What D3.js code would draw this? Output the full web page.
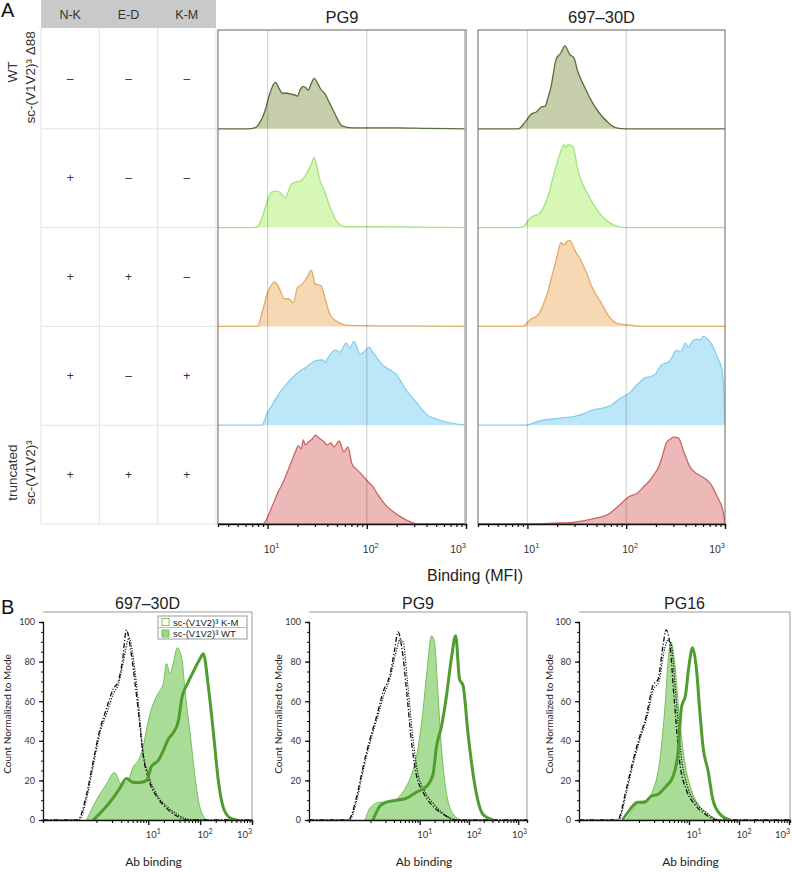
<!DOCTYPE html>
<html>
<head>
<meta charset="utf-8">
<script src="https://cdn.jsdelivr.net/npm/d3@7"></script>
<style>
  body { margin: 0; background: #fff; }
  svg { display: block; font-family: "Liberation Sans", Arial, sans-serif; }
</style>
</head>
<body>
<svg id="fig" width="792" height="872"></svg>
<script>
/* ========================================
   Binding histograms - panel A (ridges) and panel B (overlays)
   x values are log10(MFI), y values are % of row / % of mode
   ======================================== */

// ---- Panel A categories
const mutations = ['N-K', 'E-D', 'K-M'];
const rowMarks = [
    ['–', '–', '–'],
    ['+', '–', '–'],
    ['+', '+', '–'],
    ['+', '–', '+'],
    ['+', '+', '+']
];
const rowLabels = [['WT', 'sc-(V1V2)³ Δ88'], [], [], [], ['truncated', 'sc-(V1V2)³']];
const antibodiesA = ['PG9', '697–30D'];
const majorTicks = [10, 100, 1000];

// ---- Panel A series: PG9
const pg9Wt = [[0.80,0],[0.87,1],[0.92,6],[0.97,17],[1.02,35],[1.06,45],[1.08,47],[1.11,42],[1.15,36],[1.20,36],[1.24,35],[1.28,34],[1.30,33],[1.33,40],[1.36,43],[1.39,41],[1.41,39],[1.44,46],[1.47,51],[1.50,47],[1.53,41],[1.58,35],[1.63,25],[1.68,15],[1.72,7],[1.75,3],[1.85,1],[2.3,1],[2.6,0.5]];
const pg9Nk = [[0.85,0],[0.90,1],[0.95,12],[1.00,28],[1.04,36],[1.08,37],[1.12,36],[1.15,33],[1.18,30],[1.21,37],[1.24,44],[1.28,46],[1.33,47],[1.37,51],[1.40,56],[1.44,64],[1.47,71],[1.50,60],[1.53,47],[1.57,38],[1.60,29],[1.64,18],[1.68,9],[1.72,4],[1.77,1],[2.0,1],[2.5,0.5]];
const pg9NkEd = [[0.85,0],[0.895,0],[0.95,16],[1.00,34],[1.04,42],[1.07,45],[1.10,42],[1.12,38],[1.17,28],[1.21,28],[1.26,24],[1.30,39],[1.35,43],[1.40,50],[1.44,57],[1.48,43],[1.54,41],[1.58,28],[1.63,12],[1.70,5],[1.82,1],[2.2,0.5]];
const pg9NkKm = [[0.94,0],[1.00,13],[1.05,21],[1.09,28],[1.13,34],[1.17,39],[1.23,46],[1.28,51],[1.33,55],[1.38,58],[1.43,62],[1.48,65],[1.55,66],[1.58,64],[1.62,70],[1.68,76],[1.73,74],[1.79,83],[1.83,78],[1.87,85],[1.90,79],[1.93,72],[1.97,74],[2.02,79],[2.06,74],[2.09,70],[2.16,61],[2.23,56],[2.30,51],[2.35,43],[2.40,35],[2.45,29],[2.50,23],[2.60,11],[2.74,5],[2.91,1],[3.0,0]];
const pg9Trunc = [[0.95,0],[1.05,19],[1.10,31],[1.16,43],[1.20,53],[1.24,63],[1.28,73],[1.31,79],[1.34,76],[1.36,85],[1.38,80],[1.41,83],[1.45,86],[1.48,90],[1.52,87],[1.56,84],[1.60,80],[1.64,82],[1.67,78],[1.72,84],[1.77,73],[1.81,78],[1.85,61],[1.90,55],[1.96,49],[2.01,43],[2.06,38],[2.11,30],[2.16,23],[2.21,17],[2.26,13],[2.33,8],[2.40,4],[2.53,0]];

// ---- Panel A series: 697-30D
const mabWt = [[0.85,0],[0.91,0],[0.97,6],[1.04,15],[1.09,17],[1.14,22],[1.18,23],[1.21,32],[1.24,43],[1.29,70],[1.34,77],[1.38,84],[1.43,75],[1.47,72],[1.51,58],[1.58,42],[1.65,28],[1.72,17],[1.82,6],[1.90,1],[2.0,0]];
const mabNk = [[0.90,0],[0.96,1],[1.02,9],[1.07,12],[1.12,14],[1.17,22],[1.21,32],[1.25,47],[1.29,62],[1.33,75],[1.37,84],[1.39,81],[1.41,84],[1.46,82],[1.51,59],[1.55,46],[1.60,36],[1.66,25],[1.72,16],[1.78,9],[1.85,4],[1.98,0]];
const mabNkEd = [[0.90,0],[0.95,0],[1.03,7],[1.11,12],[1.16,22],[1.20,33],[1.24,48],[1.28,63],[1.31,75],[1.34,85],[1.36,83],[1.38,83],[1.40,86],[1.43,87],[1.48,77],[1.55,65],[1.60,54],[1.64,43],[1.69,33],[1.74,25],[1.82,11],[1.91,3],[2.06,1],[2.2,0]];
const mabNkKm = [[0.98,0],[1.11,4],[1.32,7],[1.48,9],[1.58,12],[1.65,15],[1.75,17],[1.82,19],[1.86,21],[1.92,26],[2.01,31],[2.05,34],[2.09,39],[2.13,43],[2.19,48],[2.24,49],[2.29,51],[2.33,57],[2.36,61],[2.43,64],[2.47,70],[2.51,76],[2.55,74],[2.60,83],[2.63,79],[2.68,86],[2.72,87],[2.75,86],[2.78,90],[2.85,84],[2.89,77],[2.92,69],[2.97,56],[2.99,30],[3.0,3]];
const mabTrunc = [[1.08,0],[1.32,1],[1.48,2],[1.65,5],[1.82,10],[1.92,18],[2.02,27],[2.12,32],[2.17,37],[2.23,43],[2.28,50],[2.33,58],[2.37,70],[2.41,83],[2.45,86],[2.48,88],[2.53,87],[2.58,74],[2.65,57],[2.73,50],[2.81,45],[2.86,40],[2.90,32],[2.94,24],[2.97,17],[3.0,2]];

const seriesA = [
    [pg9Wt, pg9Nk, pg9NkEd, pg9NkKm, pg9Trunc],
    [mabWt, mabNk, mabNkEd, mabNkKm, mabTrunc]
];

// ---- Panel B series
const antibodiesB = ['697–30D', 'PG9', 'PG16'];
const legendLabels = ['sc-(V1V2)³ K-M', 'sc-(V1V2)³ WT'];

const b697Dash = [[-0.36,0],[-0.19,13],[-0.06,30],[0.06,45],[0.19,56],[0.32,66],[0.42,70],[0.50,80],[0.58,96],[0.66,86],[0.75,68],[0.82,52],[0.90,33],[1.0,21],[1.16,12],[1.35,6],[1.55,2],[1.74,0]];
const b697Dot = [[-0.34,0],[-0.18,12],[-0.05,29],[0.07,44],[0.20,54],[0.33,64],[0.43,69],[0.52,80],[0.63,92],[0.71,82],[0.81,59],[0.90,34],[1.0,23],[1.16,13],[1.35,7],[1.55,3],[1.74,0.5],[2.0,0]];
const b697Wt = [[-0.19,0],[0.0,10],[0.19,18],[0.35,24],[0.48,18],[0.61,20],[0.71,27],[0.81,30],[0.90,37],[1.0,50],[1.10,59],[1.19,64],[1.29,69],[1.35,79],[1.42,74],[1.48,79],[1.56,87],[1.65,81],[1.71,65],[1.81,43],[1.90,22],[2.0,6],[2.13,0]];
const b697Km = [[-0.06,0],[0.13,5],[0.32,11],[0.45,16],[0.58,21],[0.71,19],[0.84,19],[0.97,20],[1.06,27],[1.19,30],[1.29,35],[1.39,41],[1.48,44],[1.58,50],[1.65,62],[1.74,68],[1.87,75],[1.99,81],[2.06,84],[2.16,67],[2.26,43],[2.35,20],[2.45,6],[2.58,1],[2.71,0]];

const bPg9Dash = [[-0.45,0],[-0.28,12],[-0.15,27],[-0.01,41],[0.12,52],[0.26,65],[0.39,73],[0.49,86],[0.56,95],[0.63,88],[0.73,66],[0.83,40],[0.93,23],[1.07,14],[1.27,7],[1.47,3],[1.74,0]];
const bPg9Dot = [[-0.43,0],[-0.27,11],[-0.14,26],[0.0,40],[0.13,51],[0.27,63],[0.40,72],[0.51,84],[0.60,91],[0.66,90],[0.75,70],[0.85,44],[0.95,25],[1.09,15],[1.29,8],[1.49,3],[1.80,0]];
const bPg9Wt = [[-0.11,0],[-0.01,6],[0.19,9],[0.39,9],[0.59,12],[0.73,17],[0.86,25],[0.97,37],[1.07,56],[1.15,76],[1.24,93],[1.30,90],[1.37,64],[1.44,37],[1.54,14],[1.68,3],[1.84,0]];
const bPg9Km = [[0.05,0],[0.19,7],[0.32,9],[0.53,10],[0.73,11],[0.93,14],[1.14,17],[1.27,23],[1.34,37],[1.44,47],[1.54,62],[1.64,81],[1.73,93],[1.81,71],[1.88,68],[1.98,44],[2.08,24],[2.18,10],[2.28,3],[2.49,0]];

const bPg16Dash = [[-0.43,0],[-0.26,15],[-0.13,29],[0.0,41],[0.14,52],[0.28,68],[0.38,71],[0.48,88],[0.54,96],[0.61,90],[0.71,59],[0.81,30],[0.95,15],[1.11,8],[1.32,3],[1.55,0]];
const bPg16Dot = [[-0.41,0],[-0.25,14],[-0.12,28],[0.01,40],[0.15,51],[0.29,66],[0.40,70],[0.50,85],[0.58,91],[0.64,89],[0.74,62],[0.84,33],[0.97,17],[1.13,9],[1.34,4],[1.60,0]];
const bPg16Wt = [[-0.26,0],[-0.13,5],[0.0,9],[0.14,10],[0.28,15],[0.41,29],[0.51,54],[0.60,85],[0.64,90],[0.71,80],[0.81,51],[0.91,30],[1.05,15],[1.21,7],[1.42,2],[1.62,0]];
const bPg16Km = [[-0.33,0],[-0.19,5],[-0.03,9],[0.11,9],[0.24,12],[0.38,13],[0.54,17],[0.68,22],[0.78,34],[0.85,57],[0.93,63],[1.0,78],[1.07,87],[1.15,76],[1.21,57],[1.28,37],[1.38,25],[1.48,10],[1.62,3],[1.82,0]];

const seriesB = [
    { dash: b697Dash, dot: b697Dot, wt: b697Wt, km: b697Km },
    { dash: bPg9Dash, dot: bPg9Dot, wt: bPg9Wt, km: bPg9Km },
    { dash: bPg16Dash, dot: bPg16Dot, wt: bPg16Wt, km: bPg16Km }
];

// ---- Styles
const rowFill = ['#c5cdaa', '#d6f7b6', '#f6d8b4', '#bde7f8', '#ecb8b8'];
const rowStroke = ['#566e3c', '#a5e37c', '#e2aa6a', '#86cfee', '#cc6565'];
const FONT_B = 'Lato, "Open Sans", sans-serif';
const WT_FILL = '#9ad685', WT_STROKE = '#74c057', KM_STROKE = '#4f9c2f';

const svg = d3.select('#fig');

function pad(s, lo, hi) {
    const out = s.slice();
    if (out[0][0] > lo) out.unshift([lo, 0]);
    if (out[out.length - 1][0] < hi) out.push([hi, 0]);
    return out;
}

function powLabel(sel, e, sup, dy) {
    sel.append('tspan').text('10');
    sel.append('tspan').attr('dy', dy).attr('font-size', sup).text(e);
}

function minorTicks(lo, hi) {
    const t = [];
    [1, 10, 100].forEach(d => { for (let k = 1; k <= 9; k++) t.push(k * d); });
    return t.filter(v => v >= lo && v <= hi && ![10, 100, 1000].includes(v));
}

// ================= PANEL A =================
const aTop = 30, aBottom = 524;
const plotsA = [{ x0: 218, x1: 466 }, { x0: 478, x1: 725 }];
const aDomain = [Math.pow(10, 0.5), 1000];
const rowY = d3.scaleLinear().domain([0, rowMarks.length]).range([aTop, aBottom]);
const colX = d3.scaleBand().domain(mutations).range([41, 216]);

svg.append('text').attr('x', 1).attr('y', 17)
    .attr('font-size', 20).attr('fill', '#111').text('A');

// Table header
svg.append('rect').attr('x', 41).attr('y', 0).attr('width', 175).attr('height', 28).attr('fill', '#c9c9c9');
svg.selectAll('.hdr').data(mutations).join('text')
    .attr('x', d => colX(d) + colX.bandwidth() / 2).attr('y', 19)
    .attr('text-anchor', 'middle').attr('font-size', 12.5).attr('fill', '#333').text(d => d);

// Table grid
const grid = svg.append('g').attr('stroke', '#e2e2e2').attr('stroke-width', 1);
mutations.concat(['end']).forEach((m, i) => {
    const x = i < 3 ? colX(m) : 216;
    grid.append('line').attr('x1', x).attr('x2', x).attr('y1', 28).attr('y2', aBottom);
});
d3.range(1, rowMarks.length + 1).forEach(i => {
    grid.append('line').attr('x1', 41).attr('x2', 218).attr('y1', rowY(i)).attr('y2', rowY(i));
});

// Table marks
rowMarks.forEach((row, r) => {
    const cy = (rowY(r) + rowY(r + 1)) / 2;
    row.forEach((m, c) => {
        svg.append('text')
            .attr('x', colX(mutations[c]) + colX.bandwidth() / 2).attr('y', cy + 4)
            .attr('text-anchor', 'middle').attr('font-size', 12).attr('fill', '#333').text(m);
    });
    // Row labels (rotated)
    rowLabels[r].forEach((line, k) => {
        const bx = k === 0 ? 17 : 35;
        const cyl = r === 0 && k === 0 ? 72 : cy - 2;
        svg.append('text')
            .attr('transform', `translate(${bx},${cyl}) rotate(-90)`)
            .attr('text-anchor', 'middle').attr('font-size', 13.5).attr('fill', '#333').text(line);
    });
});

// Ridge plots
plotsA.forEach((p, pi) => {
    const x = d3.scaleLog().domain(aDomain).range([p.x0, p.x1]);
    const g = svg.append('g');
    const clipId = 'clipA' + pi;
    svg.append('clipPath').attr('id', clipId).append('rect')
        .attr('x', p.x0).attr('y', aTop).attr('width', p.x1 - p.x0).attr('height', aBottom - aTop);

    svg.append('text').attr('x', (p.x0 + p.x1) / 2).attr('y', 23)
        .attr('text-anchor', 'middle').attr('font-size', 16.5).attr('fill', '#222').text(antibodiesA[pi]);

    const body = g.append('g').attr('clip-path', `url(#${clipId})`);
    seriesA[pi].forEach((s, r) => {
        const base = rowY(r + 1);
        const y = d3.scaleLinear().domain([0, 100]).range([base, rowY(r)]);
        const data = pad(s, 0.5, 3);
        const area = d3.area().curve(d3.curveMonotoneX)
            .x(d => x(Math.pow(10, d[0]))).y0(base).y1(d => y(d[1]));
        const line = d3.line().curve(d3.curveMonotoneX)
            .x(d => x(Math.pow(10, d[0]))).y(d => y(d[1]));
        body.append('path').attr('d', area(data)).attr('fill', rowFill[r]);
        body.append('path').attr('d', line(data)).attr('fill', 'none')
            .attr('stroke', rowStroke[r]).attr('stroke-width', 1.3);
    });

    // Vertical gridlines at decades
    [10, 100].forEach(v => {
        body.append('line').attr('x1', x(v)).attr('x2', x(v)).attr('y1', aTop).attr('y2', aBottom)
            .attr('stroke', '#000').attr('stroke-opacity', 0.17).attr('stroke-width', 1.2);
    });

    // Frame
    g.append('rect').attr('x', p.x0).attr('y', aTop).attr('width', p.x1 - p.x0).attr('height', aBottom - aTop)
        .attr('fill', 'none').attr('stroke', '#666').attr('stroke-width', 1);
    if (pi === 0) {
        g.append('line').attr('x1', p.x1 - 0.5).attr('x2', p.x1 - 0.5).attr('y1', aTop + 1).attr('y2', aBottom)
            .attr('stroke', '#b5b5b5').attr('stroke-width', 2.5);
    }

    // Axis
    const axMinor = g.append('g').attr('transform', `translate(0,${aBottom})`)
        .call(d3.axisBottom(x).tickValues(minorTicks(aDomain[0], aDomain[1])).tickSize(3).tickFormat(''));
    axMinor.select('.domain').attr('stroke', '#111').attr('stroke-width', 1.3);
    axMinor.selectAll('.tick line').attr('stroke', '#111').attr('stroke-width', 1.2);
    const axMajor = g.append('g').attr('transform', `translate(0,${aBottom})`)
        .call(d3.axisBottom(x).tickValues(majorTicks).tickSize(5).tickFormat(''));
    axMajor.select('.domain').remove();
    axMajor.selectAll('.tick line').attr('stroke', '#111').attr('stroke-width', 1.4);

    majorTicks.forEach((v, i) => {
        const last = i === majorTicks.length - 1;
        const t = g.append('text').attr('x', last ? p.x1 : x(v) + 4).attr('y', 553)
            .attr('text-anchor', last ? 'end' : 'middle').attr('font-size', 10.5).attr('fill', '#333');
        powLabel(t, Math.log10(v), 7.5, -5);
    });
});

svg.append('text').attr('x', 475).attr('y', 581).attr('text-anchor', 'middle')
    .attr('font-size', 16).attr('fill', '#222').text('Binding (MFI)');

// ================= PANEL B =================
svg.append('text').attr('x', 1).attr('y', 614)
    .attr('font-size', 20).attr('fill', '#111').text('B');

const bTop = 612, bZero = 820, bHundred = 622;
const plotsB = [
    { x0: 43, x1: 252, dom: [-1.03, 3.0], ylab: 11 },
    { x0: 309, x1: 527, dom: [-1.25, 3.18], ylab: 282 },
    { x0: 579, x1: 790, dom: [-1.2, 3.02], ylab: 553 }
];

plotsB.forEach((p, pi) => {
    const x = d3.scaleLog().domain([Math.pow(10, p.dom[0]), Math.pow(10, p.dom[1])]).range([p.x0, p.x1]);
    const y = d3.scaleLinear().domain([0, 100]).range([bZero, bHundred]);
    const g = svg.append('g');
    const s = seriesB[pi];
    const px = d => x(Math.pow(10, d[0]));

    svg.append('text').attr('x', (p.x0 + p.x1) / 2).attr('y', 609)
        .attr('text-anchor', 'middle').attr('font-size', 16).attr('fill', '#222').text(antibodiesB[pi]);

    // Frame top/right
    g.append('path').attr('d', `M${p.x0},${bTop}H${p.x1}V${bZero}`)
        .attr('fill', 'none').attr('stroke', '#999').attr('stroke-width', 1);

    const lineGen = d3.line().curve(d3.curveMonotoneX).x(px).y(d => y(d[1]));
    const areaGen = d3.area().curve(d3.curveMonotoneX).x(px).y0(bZero).y1(d => y(d[1]));

    // WT filled
    g.append('path').attr('d', areaGen(s.wt)).attr('fill', WT_FILL).attr('fill-opacity', 0.85)
        .attr('stroke', WT_STROKE).attr('stroke-width', 1);

    // Controls
    g.append('path').attr('d', lineGen(pad(s.dash, p.dom[0], p.dom[1]))).attr('fill', 'none')
        .attr('stroke', '#111').attr('stroke-width', 1.3).attr('stroke-dasharray', '5,2,1.2,2');
    g.append('path').attr('d', lineGen(pad(s.dot, p.dom[0], p.dom[1]))).attr('fill', 'none')
        .attr('stroke', '#111').attr('stroke-width', 1.2).attr('stroke-dasharray', '1.2,1.4');

    // K-M thick line
    g.append('path').attr('d', lineGen(s.km)).attr('fill', 'none')
        .attr('stroke', KM_STROKE).attr('stroke-width', 3).attr('stroke-linejoin', 'round');

    // X axis
    const axMinor = g.append('g').attr('transform', `translate(0,${bZero})`)
        .call(d3.axisBottom(x).tickValues(minorTicks(1, 1000)).tickSize(3).tickFormat(''));
    axMinor.select('.domain').attr('stroke', '#111').attr('stroke-width', 1.3);
    axMinor.selectAll('.tick line').attr('stroke', '#111').attr('stroke-width', 1.1);
    const axMajor = g.append('g').attr('transform', `translate(0,${bZero})`)
        .call(d3.axisBottom(x).tickValues(majorTicks).tickSize(5).tickFormat(''));
    axMajor.select('.domain').remove();
    axMajor.selectAll('.tick line').attr('stroke', '#111').attr('stroke-width', 1.4);
    majorTicks.forEach((v, i) => {
        const last = i === majorTicks.length - 1;
        const t = g.append('text').attr('x', last ? p.x1 : x(v) + 5).attr('y', 838)
            .attr('text-anchor', last ? 'end' : 'middle').attr('font-family', FONT_B)
            .attr('font-size', 9.5).attr('fill', '#333');
        powLabel(t, Math.log10(v), 7, -4);
    });

    // Y axis
    const ayMinor = g.append('g').attr('transform', `translate(${p.x0},0)`)
        .call(d3.axisLeft(y).tickValues(d3.range(0, 101, 5)).tickSize(2).tickFormat(''));
    ayMinor.select('.domain').attr('stroke', '#111').attr('stroke-width', 1.3);
    ayMinor.selectAll('.tick line').attr('stroke', '#111');
    const ayMajor = g.append('g').attr('transform', `translate(${p.x0},0)`)
        .call(d3.axisLeft(y).tickValues(d3.range(0, 101, 20)).tickSize(4).tickPadding(4));
    ayMajor.select('.domain').remove();
    ayMajor.selectAll('.tick line').attr('stroke', '#111').attr('stroke-width', 1.2);
    ayMajor.selectAll('.tick text').attr('font-family', FONT_B).attr('font-size', 9).attr('fill', '#333');

    g.append('text').attr('transform', `translate(${p.ylab},714) rotate(-90)`)
        .attr('text-anchor', 'middle').attr('font-family', FONT_B).attr('font-size', 10)
        .attr('fill', '#222').text('Count Normalized to Mode');
    g.append('text').attr('x', (p.x0 + p.x1) / 2 + 6).attr('y', 866)
        .attr('text-anchor', 'middle').attr('font-family', FONT_B).attr('font-size', 12)
        .attr('fill', '#222').text('Ab binding');
});

// Legend (first B panel)
const leg = svg.append('g').attr('transform', 'translate(158,616)');
leg.append('rect').attr('width', 89).attr('height', 23).attr('fill', '#fff').attr('stroke', '#999');
leg.append('line').attr('x1', 0).attr('x2', 89).attr('y1', 11.5).attr('y2', 11.5).attr('stroke', '#bbb');
legendLabels.forEach((lab, i) => {
    leg.append('rect').attr('x', 4).attr('y', 2.5 + i * 11.5).attr('width', 7).attr('height', 7)
        .attr('fill', i === 0 ? '#fff' : WT_FILL).attr('stroke', i === 0 ? '#7cc35f' : WT_STROKE);
    leg.append('text').attr('x', 15).attr('y', 9.5 + i * 11.5)
        .attr('font-size', 9.5).attr('fill', '#222').text(lab);
});
</script>
</body>
</html>
